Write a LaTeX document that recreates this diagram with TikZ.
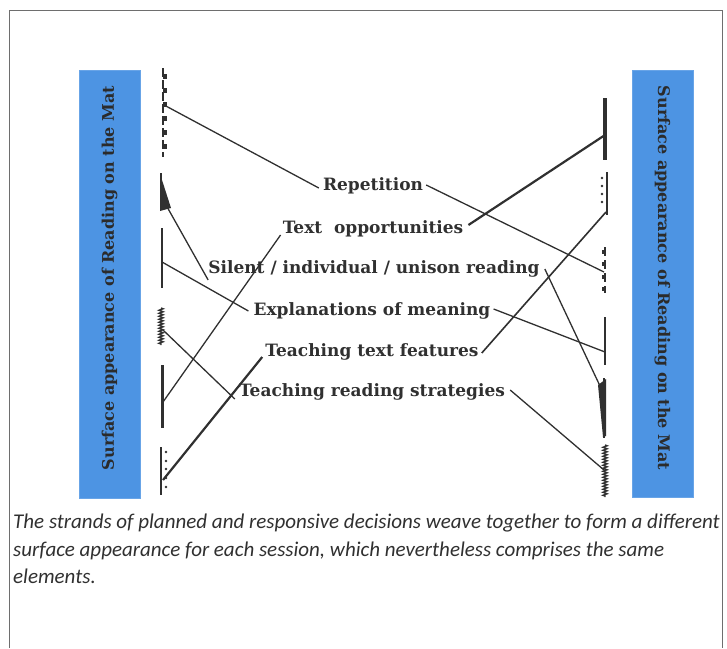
\documentclass[tikz,border=0pt]{standalone}
\usepackage{fontspec}
\setmainfont{Carlito}
\newfontfamily\labelfont{DejaVu Serif}
\usetikzlibrary{decorations.pathmorphing}
\definecolor{barblue}{RGB}{77,148,227}
\definecolor{ink}{RGB}{48,48,48}
\definecolor{frame}{RGB}{110,110,110}
\begin{document}
\begin{tikzpicture}[x=1pt,y=-1pt,
  strand/.style={draw=ink, line width=1.3pt},
  thickstrand/.style={draw=ink, line width=2.2pt},
  endmark/.style={draw=ink, line width=1.5pt},
  element/.style={font=\labelfont\bfseries\fontsize{17}{20}\selectfont, text=ink, inner sep=1pt},
  barbox/.style={fill=barblue, draw=barblue!85!white, line width=0.8pt},
  bartext/.style={font=\labelfont\bfseries\fontsize{16}{19}\selectfont, text=ink!90!black}]
\useasboundingbox (0,0) rectangle (727,648);

% outer frame
\draw[frame, line width=0.9pt] (9,648) -- (9,10) -- (722,10) -- (722,648);

% blue side bars
\path[barbox] (79,70) rectangle (140,498);
\node[bartext, rotate=90] (barL) at (109.5,278) {Surface appearance of Reading on the Mat};
\path[barbox] (632,70) rectangle (693,497);
\node[bartext, rotate=-90] (barR) at (662.5,278) {Surface appearance of Reading on the Mat};

% the six elements
\node[element] (rep) at (373,186) {Repetition};
\node[element] (txt) at (373,229) {Text\ \ opportunities};
\node[element] (sil) at (374,269) {Silent / individual / unison reading};
\node[element] (exp) at (372,311) {Explanations of meaning};
\node[element] (ttf) at (372,352) {Teaching text features};
\node[element] (trs) at (372,392) {Teaching reading strategies};

% left-hand strand ends
% L1: dashed with ticks
\draw[endmark, line width=1.2pt, dash pattern=on 9pt off 3pt] (163,68) -- (163,157);
\foreach \y in {74,88,102,116,130,144}
  \fill[ink] (163,\y) rectangle (166.5,\y+5);
\coordinate (l1) at (164,105);
% L2: wedge
\draw[endmark, line width=1.1pt] (161,173) -- (161,210);
\fill[ink] (160,180) -- (162,180) -- (171,208) -- (160,211) -- cycle;
\coordinate (l2) at (166,205);
% L3: plain line
\draw[endmark] (162,228) -- (162,288);
\coordinate (l3) at (162,262);
% L4: wavy
\draw[endmark, line width=1.3pt, decorate, decoration={zigzag, segment length=3pt, amplitude=2.2pt}] (161,308) -- (161,345);
\coordinate (l4) at (163,330);
% L5: heavy bar
\draw[endmark, line width=3pt] (162,365) -- (162,428);
\coordinate (l5) at (163,402);
% L6: line with dots
\draw[endmark, line width=1.2pt] (161,447) -- (161,495);
\foreach \y in {452,461,469,478,487}
  \fill[ink] (166,\y) circle (1.4pt);
\coordinate (l6) at (163,480);

% right-hand strand ends
% R1: heavy bar
\draw[endmark, line width=3.5pt] (605,98) -- (605,160);
\coordinate (r1) at (605,135);
% R2: line with dots
\draw[endmark, line width=1.2pt] (607,172) -- (607,215);
\foreach \y in {178,186,194,202}
  \fill[ink] (602,\y) circle (1.4pt);
\coordinate (r2) at (606,212);
% R3: dashed with ticks
\draw[endmark, line width=1.2pt, dash pattern=on 9pt off 4pt] (605,247) -- (605,293);
\foreach \y in {250,262,275,287}
  \fill[ink] (601.5,\y) rectangle (605,\y+4);
\coordinate (r3) at (604,272);
% R4: plain line
\draw[endmark] (605,317) -- (605,365);
\coordinate (r4) at (605,352);
% R5: wedge
\draw[endmark, line width=1.1pt] (604,378) -- (604,438);
\fill[ink] (598,385) -- (606,379) -- (606,436) -- (603,437) -- cycle;
\coordinate (r5) at (600,386);
% R6: wavy
\draw[endmark, line width=1.3pt, decorate, decoration={zigzag, segment length=3pt, amplitude=2.2pt}] (605,445) -- (605,497);
\coordinate (r6) at (604,470);

% strands weaving the elements together
\draw[strand] (l1) -- ([xshift=-3pt,yshift=-2pt]rep.west);
\draw[strand] ([xshift=2pt,yshift=1pt]rep.east) -- (r3);
\draw[strand] (l5) -- ([xshift=-1pt,yshift=-6pt]txt.west);
\draw[thickstrand] ([xshift=4pt,yshift=4pt]txt.east) -- (r1);
\draw[strand] (l2) -- ([xshift=1pt,yshift=-11pt]sil.west);
\draw[strand] ([xshift=4pt]sil.east) -- (r5);
\draw[strand] (l3) -- ([xshift=-4pt]exp.west);
\draw[strand] ([xshift=2pt,yshift=2pt]exp.east) -- (r4);
\draw[thickstrand] (l6) -- ([xshift=-2pt,yshift=-5pt]ttf.west);
\draw[strand, line width=1.6pt] ([xshift=2pt,yshift=-1pt]ttf.east) -- (r2);
\draw[strand] (l4) -- ([xshift=-3pt,yshift=-7pt]trs.west);
\draw[strand] ([xshift=4pt,yshift=2pt]trs.east) -- (r6);

% caption
\node[anchor=north west, align=left, inner sep=0pt,
      font=\itshape\fontsize{21}{27.5}\selectfont, text=ink] (cap) at (13,514)
  {The strands of planned and responsive decisions weave together to form a different\\
   surface appearance for each session, which nevertheless comprises the same\\
   elements.};
\end{tikzpicture}
\end{document}
